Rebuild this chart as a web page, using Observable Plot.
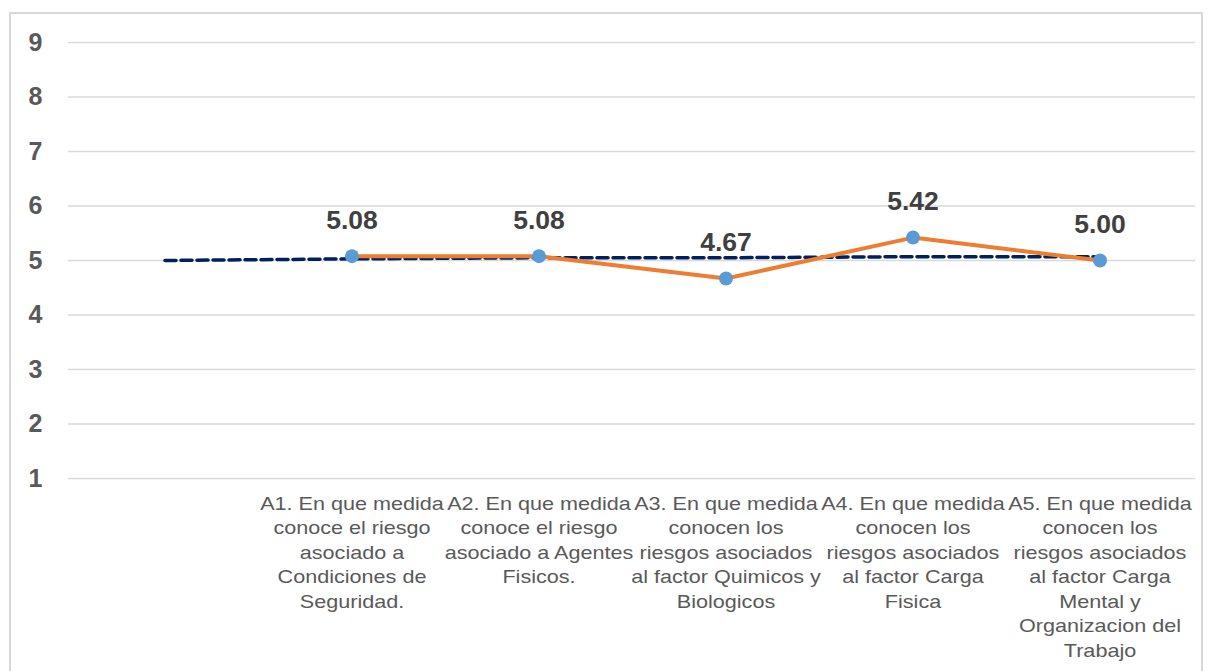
<!DOCTYPE html>
<html>
<head>
<meta charset="utf-8">
<script src="https://cdn.jsdelivr.net/npm/d3@7"></script>
<script src="https://cdn.jsdelivr.net/npm/@observablehq/plot@0.6"></script>
<style>
  html, body { margin: 0; padding: 0; background: #fff; }
  #wrap { position: relative; width: 1211px; height: 671px; overflow: hidden; }
  #frame { position: absolute; left: 9px; top: 12px; width: 1194px; height: 700px; border: 2px solid #d9d9d9; box-sizing: border-box; }
  #chart { position: absolute; left: 0; top: 0; }
  #chart svg { font-family: "Liberation Sans", Arial, sans-serif; }
</style>
</head>
<body>
<div id="wrap"><div id="frame"></div><div id="chart"></div></div>
<script>
const categories = [
  "",
  "A1. En que medida\nconoce el riesgo\nasociado a\nCondiciones de\nSeguridad.",
  "A2. En que medida\nconoce el riesgo\nasociado a Agentes\nFisicos.",
  "A3. En que medida\nconocen los\nriesgos asociados\nal factor Quimicos y\nBiologicos",
  "A4. En que medida\nconocen los\nriesgos asociados\nal factor Carga\nFisica",
  "A5. En que medida\nconocen los\nriesgos asociados\nal factor Carga\nMental y\nOrganizacion del\nTrabajo"
];
const scores = [null, 5.08, 5.08, 4.67, 5.42, 5.00];
const trend = [5.00, 5.03, 5.05, 5.05, 5.07, 5.07];
const yTicks = [1, 2, 3, 4, 5, 6, 7, 8, 9];

const rows = categories.map((c, i) => ({cat: c, score: scores[i], trend: trend[i]}));
const pts = rows.filter(d => d.score != null);

const chart = Plot.plot({
  width: 1211,
  height: 671,
  marginLeft: 68,
  marginRight: 16,
  marginTop: 42,
  marginBottom: 193,
  x: {type: "band", domain: categories, padding: 0},
  y: {domain: [1, 9]},
  marks: [
    Plot.gridY(yTicks, {stroke: "#d9d9d9", strokeOpacity: 1, strokeWidth: 1.5}),
    Plot.axisY(yTicks, {tickSize: 0, tickPadding: 26, tickFormat: d3.format("d"), fontSize: 25, fontWeight: "bold", fill: "#595959", label: null}),
    Plot.axisX({tickSize: 0, tickPadding: 14, fontSize: 18, fill: "#595959", lineHeight: 1.36, lineAnchor: "top", label: null}),
    Plot.line(rows, {x: "cat", y: "trend", stroke: "#002060", strokeWidth: 3.5, strokeDasharray: "11,5"}),
    Plot.line(pts, {x: "cat", y: "score", stroke: "#ED7D31", strokeWidth: 4}),
    Plot.dot(pts, {x: "cat", y: "score", r: 7, fill: "#5B9BD5", stroke: "none"}),
    Plot.text(pts, {x: "cat", y: "score", text: d => d.score.toFixed(2), dy: -36, fontSize: 26.5, fontWeight: "bold", fill: "#404040"})
  ]
});
// widen the category labels horizontally to match the reference's stretched text
chart.querySelectorAll('g[aria-label="x-axis tick label"] text').forEach(t => {
  const tr = t.getAttribute("transform") || "";
  t.setAttribute("transform", tr + " scale(1.2,1)");
});
document.getElementById("chart").appendChild(chart);
</script>
</body>
</html>
